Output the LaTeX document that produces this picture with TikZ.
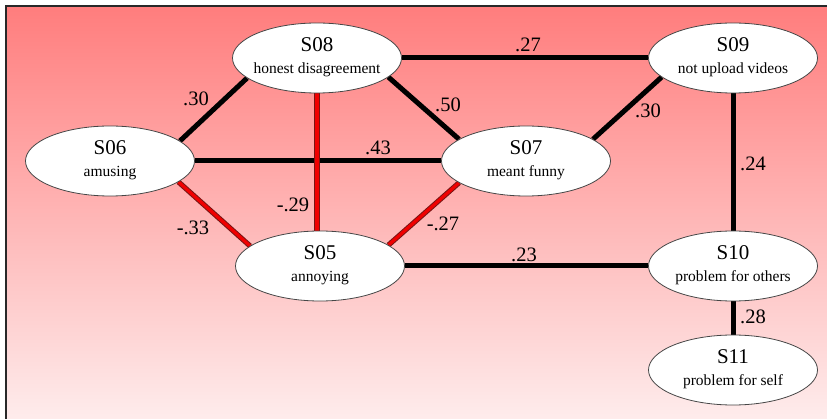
\documentclass[tikz,border=0pt]{standalone}
\usepackage{fontspec}
\setmainfont{Liberation Serif}
\newfontfamily\tnr{Liberation Serif}
\usetikzlibrary{shapes.geometric}
\definecolor{bgtop}{RGB}{255,125,125}
\definecolor{bgbot}{RGB}{254,236,236}
\definecolor{framec}{RGB}{40,40,40}
\definecolor{ellc}{RGB}{70,70,70}
\definecolor{redc}{RGB}{240,0,0}
\definecolor{rededge}{RGB}{120,20,20}
\newcommand{\sttext}[2]{\makebox[0pt]{\begin{tabular}{@{}c@{}}\tnr\fontsize{21}{22}\selectfont #1\\[0pt]\tnr\fontsize{15.5}{17}\selectfont #2\end{tabular}}}
\pgfdeclarelayer{bg}
\pgfdeclarelayer{edges}
\pgfsetlayers{bg,edges,main}
\begin{document}
\begin{tikzpicture}[x=1pt,y=-1pt,
  state/.style={ellipse, draw=ellc, line width=0.8pt, fill=white, minimum width=169pt, minimum height=70pt, inner sep=0pt, font=\tnr\fontsize{20}{22}\selectfont},
  posedge/.style={line width=5pt, black},
  negedge/.style={line width=1pt, draw=rededge, double=redc, double distance=3.2pt},
  weight/.style={inner sep=0pt, font=\tnr\fontsize{20.5}{22}\selectfont}]
\useasboundingbox (0,0) rectangle (827,419);
\begin{pgfonlayer}{bg}
\shade[top color=bgtop, bottom color=bgbot] (6,6) rectangle (827,419);
\draw[framec, line width=1.2pt] (6,419) -- (6,6) -- (827,6);
\end{pgfonlayer}

\node[state] (S08) at (317,58) {\sttext{S08}{honest disagreement}};
\node[state] (S09) at (733,58) {\sttext{S09}{not upload videos}};
\node[state] (S06) at (110,161) {\sttext{S06}{amusing}};
\node[state] (S07) at (526,161) {\sttext{S07}{meant funny}};
\node[state] (S05) at (320,266) {\sttext{S05}{annoying}};
\node[state] (S10) at (733,266) {\sttext{S10}{problem for others}};
\node[state] (S11) at (733,370) {\sttext{S11}{problem for self}};

\begin{pgfonlayer}{edges}
\draw[posedge] (S08.east) -- (S09.west);
\draw[posedge] (S06.16) -- (S08.196);
\draw[posedge] (S08.345) -- (S07.162);
\draw[posedge] (S09.195) -- (S07.18);
\draw[posedge] (S06.east) -- (S07.west);
\draw[posedge] (S05.east) -- (S10.west);
\draw[posedge] (S09.south) -- (S10.north);
\draw[posedge] (S10.south) -- (S11.north);
\draw[negedge] (S08.south) -- (S08.south |- S05.north);
\draw[negedge] (S06.343) -- (S05.164);
\draw[negedge] (S07.198) -- (S05.17);
\end{pgfonlayer}

\node[weight] (w1) at (528,45) {.27};
\node[weight] (w2) at (196,99) {.30};
\node[weight] (w3) at (448,105) {.50};
\node[weight] (w4) at (648,111) {.30};
\node[weight] (w5) at (378,148) {.43};
\node[weight] (w6) at (753,164) {.24};
\node[weight] (w7) at (293,205) {-.29};
\node[weight] (w8) at (193,228) {-.33};
\node[weight] (w9) at (443,224) {-.27};
\node[weight] (w10) at (524,255) {.23};
\node[weight] (w11) at (753,317) {.28};
\end{tikzpicture}
\end{document}
